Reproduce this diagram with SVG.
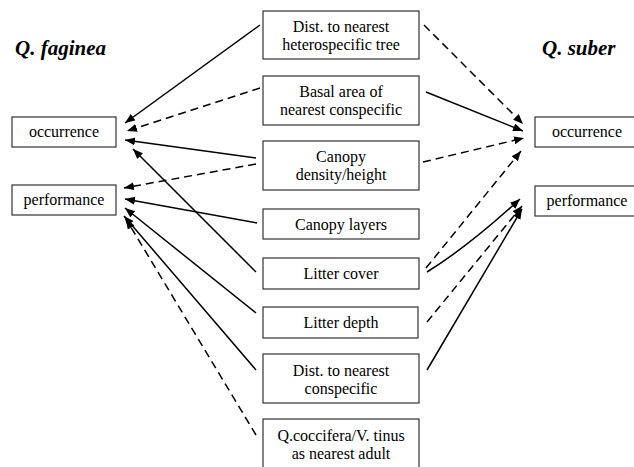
<svg xmlns="http://www.w3.org/2000/svg" width="634" height="467" viewBox="0 0 634 467">
<defs>
<style>
.box{fill:#fff;stroke:#333;stroke-width:1.2}
.t{font-family:'Liberation Serif','Times New Roman',serif;font-size:16px;fill:#000;text-anchor:middle}
.title{font-family:'Liberation Serif','Times New Roman',serif;font-size:21px;font-weight:bold;font-style:italic;fill:#000}
.c{fill:none;stroke:#000;stroke-width:1.5;marker-end:url(#ah)}
.d{stroke-dasharray:8 5}
</style>
<marker id="ah" markerUnits="userSpaceOnUse" markerWidth="11" markerHeight="9" refX="10" refY="4" orient="auto">
<path d="M0,0 L10,4 L0,8 z" fill="#000"/>
</marker>
</defs>
<rect width="634" height="467" fill="#fff"/>
<text class="title" x="15" y="55">Q. faginea</text>
<text class="title" x="542" y="55">Q. suber</text>

<g id="connectors">
<line class="c" x1="260" y1="25" x2="125" y2="123"/>
<line class="c d" x1="260" y1="88" x2="127" y2="131"/>
<line class="c" x1="256" y1="158" x2="125" y2="140"/>
<line class="c" x1="256" y1="272" x2="133" y2="149"/>
<line class="c d" x1="256" y1="164" x2="124" y2="188"/>
<line class="c" x1="257" y1="223" x2="125" y2="199"/>
<line class="c" x1="256" y1="313" x2="125" y2="208"/>
<line class="c" x1="256" y1="370" x2="124" y2="216"/>
<line class="c d" x1="256" y1="435" x2="126" y2="219"/>
<line class="c d" x1="424" y1="25" x2="523" y2="124"/>
<line class="c" x1="426" y1="92" x2="523" y2="131"/>
<line class="c d" x1="423" y1="162" x2="524" y2="138"/>
<line class="c d" x1="426" y1="268" x2="521" y2="151"/>
<path class="c" d="M427,272 Q469,246 520,199"/>
<line class="c d" x1="427" y1="322" x2="522" y2="206"/>
<line class="c" x1="427" y1="370" x2="522" y2="209"/>
</g>

<g id="faginea-occurrence"><rect class="box" x="12" y="117" width="104" height="30"/><text class="t" x="64" y="137">occurrence</text></g>
<g id="faginea-performance"><rect class="box" x="12" y="185" width="104" height="30"/><text class="t" x="64" y="205">performance</text></g>
<g id="suber-occurrence"><rect class="box" x="535" y="117" width="104" height="30"/><text class="t" x="587" y="137">occurrence</text></g>
<g id="suber-performance"><rect class="box" x="535" y="186" width="104" height="30"/><text class="t" x="587" y="206">performance</text></g>

<g id="dist-hetero"><rect class="box" x="263" y="11" width="156" height="48"/><text class="t" x="341" y="32">Dist. to nearest</text><text class="t" x="341" y="50">heterospecific tree</text></g>
<g id="basal-area"><rect class="box" x="263" y="76" width="156" height="49"/><text class="t" x="341" y="97">Basal area of</text><text class="t" x="341" y="115">nearest conspecific</text></g>
<g id="canopy-density"><rect class="box" x="263" y="141" width="156" height="49"/><text class="t" x="341" y="162">Canopy</text><text class="t" x="341" y="180">density/height</text></g>
<g id="canopy-layers"><rect class="box" x="263" y="209" width="156" height="30"/><text class="t" x="341" y="230">Canopy layers</text></g>
<g id="litter-cover"><rect class="box" x="263" y="258" width="156" height="31"/><text class="t" x="341" y="279">Litter cover</text></g>
<g id="litter-depth"><rect class="box" x="263" y="307" width="155" height="31"/><text class="t" x="341" y="328">Litter depth</text></g>
<g id="dist-con"><rect class="box" x="263" y="354" width="156" height="49"/><text class="t" x="341" y="376">Dist. to nearest</text><text class="t" x="341" y="394">conspecific</text></g>
<g id="qcoccifera"><rect class="box" x="263" y="419" width="156" height="52"/><text class="t" x="341" y="441">Q.coccifera/V. tinus</text><text class="t" x="341" y="459">as nearest adult</text></g>
</svg>
